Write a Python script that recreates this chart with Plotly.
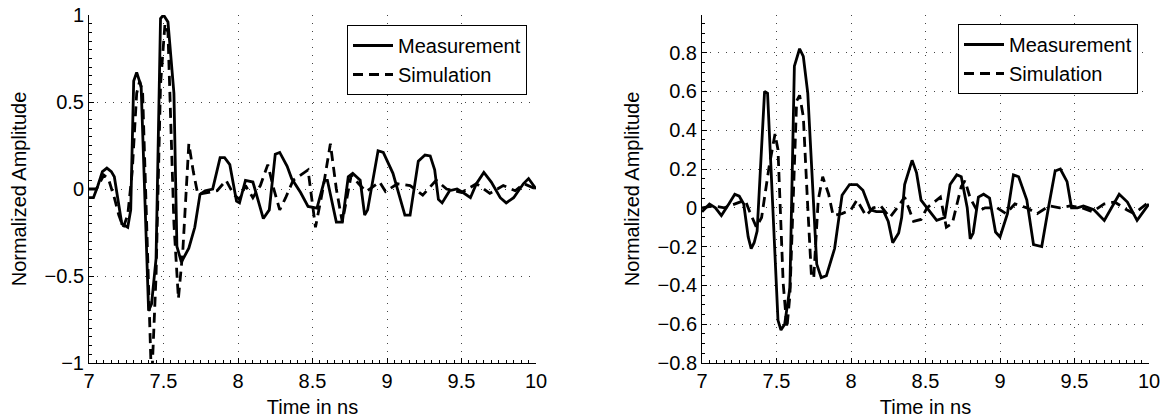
import plotly.graph_objects as go

# ---------------- data ----------------
t_meas_a = [7.00, 7.03, 7.06, 7.09, 7.12, 7.15, 7.17, 7.20, 7.22, 7.26, 7.28, 7.30, 7.32, 7.35,
            7.40, 7.42, 7.45, 7.48, 7.50, 7.53, 7.57, 7.59, 7.62, 7.67, 7.71, 7.745, 7.78, 7.83,
            7.88, 7.91, 7.945, 7.99, 8.01, 8.05, 8.10, 8.17, 8.21, 8.25, 8.28, 8.33, 8.36, 8.42,
            8.47, 8.53, 8.58, 8.60, 8.66, 8.70, 8.74, 8.77, 8.82, 8.85, 8.87, 8.94, 8.975, 9.04,
            9.10, 9.12, 9.155, 9.21, 9.255, 9.29, 9.32, 9.345, 9.37, 9.42, 9.47, 9.51, 9.56, 9.60,
            9.65, 9.70, 9.76, 9.80, 9.85, 9.915, 9.95, 10.00]
v_meas_a = [-0.05, -0.05, 0.02, 0.10, 0.12, 0.10, 0.07, -0.09, -0.20, -0.22, -0.12, 0.62, 0.67, 0.59,
            -0.70, -0.66, -0.40, 0.98, 1.00, 0.96, 0.55, -0.33, -0.42, -0.34, -0.22, -0.03, -0.01, 0.00,
            0.18, 0.18, 0.14, -0.07, -0.08, 0.05, 0.04, -0.17, -0.12, 0.20, 0.21, 0.13, 0.06, -0.02,
            -0.10, -0.11, 0.05, 0.05, -0.19, -0.19, 0.07, 0.09, 0.05, -0.15, -0.12, 0.22, 0.21, 0.09,
            -0.09, -0.15, -0.15, 0.16, 0.195, 0.19, 0.11, -0.06, -0.08, -0.01, 0.00, -0.02, -0.05, 0.03,
            0.095, 0.04, -0.05, -0.08, -0.05, 0.03, 0.06, 0.00]

t_sim_a = [7.00, 7.05, 7.10, 7.13, 7.17, 7.20, 7.23, 7.26, 7.29, 7.32, 7.34, 7.36, 7.42, 7.45,
           7.48, 7.51, 7.53, 7.57, 7.60, 7.63, 7.67, 7.70, 7.73, 7.80, 7.86, 7.92, 7.97, 8.01,
           8.05, 8.10, 8.15, 8.20, 8.24, 8.28, 8.32, 8.37, 8.42, 8.47, 8.52, 8.57, 8.62, 8.66,
           8.70, 8.73, 8.76, 8.81, 8.86, 8.95, 8.99, 9.07, 9.155, 9.24, 9.33, 9.40, 9.50, 9.60,
           9.69, 9.78, 9.86, 9.92, 10.00]
v_sim_a = [0.00, 0.00, 0.08, 0.06, -0.05, -0.15, -0.22, -0.15, 0.10, 0.55, 0.62, 0.55, -1.12, -0.50,
           0.60, 0.95, 0.90, -0.20, -0.63, -0.35, 0.26, 0.10, -0.03, -0.02, -0.01, 0.05, -0.03, -0.06,
           0.02, -0.05, 0.02, 0.14, 0.00, -0.12, -0.05, 0.05, 0.08, 0.11, -0.22, 0.00, 0.26, 0.00,
           -0.19, -0.05, 0.08, 0.03, -0.015, 0.04, -0.015, 0.03, 0.02, -0.035, 0.05, 0.00, -0.02, 0.03,
           -0.025, 0.02, -0.01, 0.03, 0.00]

t_meas_b = [7.00, 7.05, 7.09, 7.13, 7.18, 7.22, 7.25, 7.28, 7.31, 7.33, 7.35, 7.37, 7.42, 7.44,
            7.51, 7.53, 7.555, 7.59, 7.62, 7.655, 7.68, 7.71, 7.77, 7.80, 7.835, 7.89, 7.94, 7.99,
            8.04, 8.08, 8.13, 8.17, 8.22, 8.25, 8.28, 8.32, 8.34, 8.36, 8.41, 8.44, 8.47, 8.52,
            8.575, 8.63, 8.665, 8.71, 8.74, 8.78, 8.80, 8.82, 8.855, 8.89, 8.93, 8.97, 9.00, 9.05,
            9.09, 9.125, 9.18, 9.225, 9.28, 9.325, 9.37, 9.405, 9.45, 9.48, 9.52, 9.56, 9.63, 9.70,
            9.75, 9.80, 9.855, 9.92, 10.00]
v_meas_b = [-0.02, 0.02, 0.00, -0.04, 0.02, 0.07, 0.06, 0.02, -0.15, -0.21, -0.18, -0.12, 0.60, 0.59,
            -0.58, -0.63, -0.60, -0.41, 0.73, 0.82, 0.78, 0.59, -0.29, -0.36, -0.35, -0.21, 0.065, 0.12,
            0.12, 0.09, -0.01, -0.02, -0.02, -0.07, -0.18, -0.13, -0.05, 0.12, 0.245, 0.18, 0.04, -0.01,
            -0.065, -0.05, 0.12, 0.17, 0.16, 0.00, -0.16, -0.13, 0.055, 0.07, 0.05, -0.125, -0.15, -0.03,
            0.17, 0.16, 0.04, -0.19, -0.20, 0.00, 0.19, 0.20, 0.135, 0.00, 0.00, 0.01, -0.01, -0.065,
            0.00, 0.07, 0.03, -0.065, 0.02]

t_sim_b = [7.00, 7.08, 7.15, 7.22, 7.29, 7.32, 7.365, 7.40, 7.45, 7.49, 7.51, 7.545, 7.57, 7.59,
           7.635, 7.655, 7.68, 7.71, 7.735, 7.75, 7.78, 7.81, 7.85, 7.88, 7.94, 8.00, 8.04, 8.10,
           8.15, 8.20, 8.26, 8.31, 8.36, 8.42, 8.47, 8.51, 8.56, 8.60, 8.64, 8.68, 8.74, 8.765,
           8.80, 8.85, 8.90, 8.98, 9.04, 9.10, 9.18, 9.25, 9.33, 9.40, 9.47, 9.55, 9.62, 9.70,
           9.77, 9.85, 9.90, 9.95, 10.00]
v_sim_b = [0.00, 0.01, 0.00, 0.02, 0.04, -0.02, -0.10, -0.05, 0.21, 0.38, 0.30, -0.39, -0.62, -0.45,
           0.55, 0.58, 0.47, 0.00, -0.36, -0.36, 0.04, 0.16, 0.07, -0.04, -0.03, -0.01, 0.04, -0.04,
           0.00, 0.01, -0.05, 0.00, 0.055, -0.07, -0.06, 0.00, 0.03, 0.055, -0.10, -0.08, 0.11, 0.14,
           0.05, -0.02, 0.00, 0.00, -0.03, 0.02, 0.00, -0.03, 0.01, 0.00, 0.01, 0.00, -0.02, 0.02,
           0.03, -0.01, -0.03, 0.00, 0.03]

x_ticks = [7, 7.5, 8, 8.5, 9, 9.5, 10]
series_names = ["Measurement", "Simulation"]
x_title = "Time in ns"
y_title = "Normalized Amplitude"

# ---------------- figure ----------------
W, H = 1162, 418
FONT = dict(family="Liberation Sans, Arial, Helvetica, sans-serif", size=20, color="black")
solid = dict(color="black", width=2.8)
dashed = dict(color="black", width=2.8, dash="10px,6px")

fig = go.Figure()
fig.add_trace(go.Scatter(x=t_meas_a, y=v_meas_a, mode="lines", line=solid, name=series_names[0],
                         xaxis="x", yaxis="y", legend="legend"))
fig.add_trace(go.Scatter(x=t_sim_a, y=v_sim_a, mode="lines", line=dashed, name=series_names[1],
                         xaxis="x", yaxis="y", legend="legend"))
fig.add_trace(go.Scatter(x=t_meas_b, y=v_meas_b, mode="lines", line=solid, name=series_names[0],
                         xaxis="x2", yaxis="y2", legend="legend2"))
fig.add_trace(go.Scatter(x=t_sim_b, y=v_sim_b, mode="lines", line=dashed, name=series_names[1],
                         xaxis="x2", yaxis="y2", legend="legend2"))

grid = dict(showgrid=True, gridcolor="#444", gridwidth=1, griddash="1px,7px", zeroline=False,
            showline=True, linecolor="black", linewidth=1, ticks="inside", ticklen=5,
            tickcolor="black", tickfont=FONT, mirror=False, automargin=False)

def xax(domain, anchor):
    return dict(grid, domain=domain, anchor=anchor, range=[7, 10], tickvals=x_ticks,
                minor=dict(ticks="inside", ticklen=3, dtick=0.05, tickcolor="black", showgrid=False),
                title=dict(text=x_title, font=FONT, standoff=8))

def yax(domain, anchor, rng, dtick, mdt):
    return dict(grid, domain=domain, anchor=anchor, range=rng, dtick=dtick, tick0=0,
                minor=dict(ticks="inside", ticklen=3, dtick=mdt, tickcolor="black", showgrid=False),
                title=dict(text=y_title, font=FONT, standoff=12))

ydom = [55 / H, 403 / H]
legend_common = dict(bgcolor="white", bordercolor="black", borderwidth=1, font=FONT,
                     xanchor="right", yanchor="top", tracegroupgap=0, itemwidth=40)

fig.update_layout(
    width=W, height=H, margin=dict(l=0, r=0, t=0, b=0, autoexpand=False),
    paper_bgcolor="white", plot_bgcolor="white", font=FONT,
    xaxis=xax([89 / W, 536 / W], "y"),
    yaxis=yax(ydom, "x", [-1, 1], 0.5, 0.05),
    xaxis2=xax([702 / W, 1149 / W], "y2"),
    yaxis2=yax(ydom, "x2", [-0.8, 0.994], 0.2, 0.05),
    legend=dict(legend_common, x=527 / W, y=1 - 25 / H),
    legend2=dict(legend_common, x=1138 / W, y=1 - 24 / H),
)

fig.write_html("out.html", config={"displayModeBar": False},
               post_script="document.body.style.margin='0';document.body.style.overflow='hidden';")
